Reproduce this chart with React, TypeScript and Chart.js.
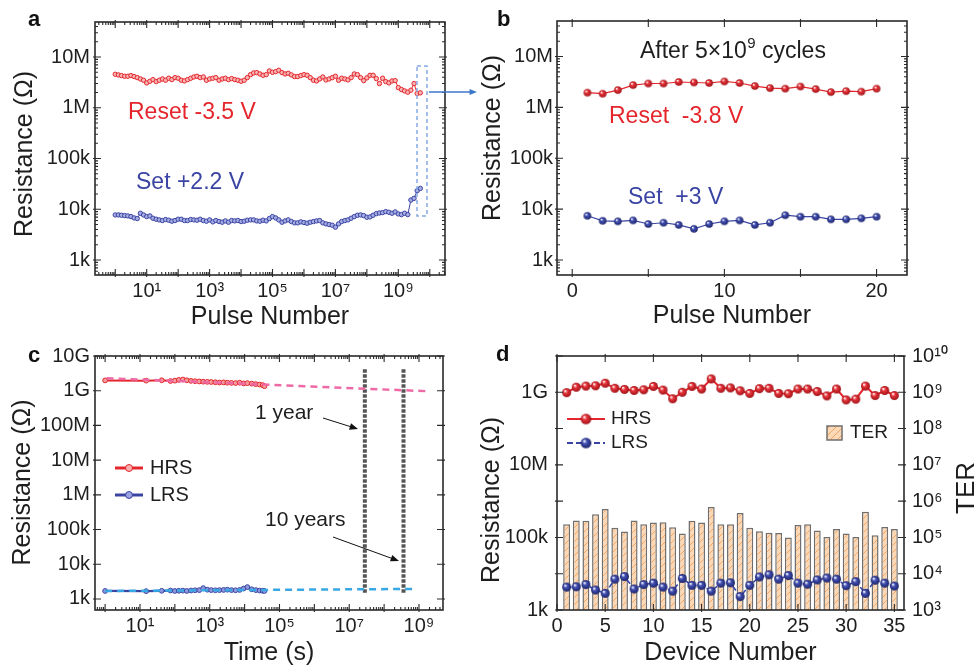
import React, { useEffect, useRef } from 'react';
import { Chart, registerables } from 'chart.js';

Chart.register(...registerables);

const FAMILY = '"Liberation Sans", Arial, Helvetica, sans-serif';
const INK = '#1e1e1e';
const RED = '#E4262C';
const BLUE = '#3A44A3';
const PINK_FIT = '#EE6AA7';
const CYAN_FIT = '#38A8E4';

Chart.defaults.font.family = FAMILY;
Chart.defaults.color = INK;

// ================= Panel a : endurance =================
const pulseA = [
  1, 1.26, 1.58, 2, 2.51, 3.16, 3.98, 5.01, 6.31, 7.94,
  10, 12.6, 15.8, 20, 25.1, 31.6, 39.8, 50.1, 63.1, 79.4,
  100, 126, 158, 200, 251, 316, 398, 501, 631, 794,
  1e3, 1.26e3, 1.58e3, 2e3, 2.51e3, 3.16e3, 3.98e3, 5.01e3, 6.31e3, 7.94e3,
  1e4, 1.26e4, 1.58e4, 2e4, 2.51e4, 3.16e4, 3.98e4, 5.01e4, 6.31e4, 7.94e4,
  1e5, 1.26e5, 1.58e5, 2e5, 2.51e5, 3.16e5, 3.98e5, 5.01e5, 6.31e5, 7.94e5,
  1e6, 1.26e6, 1.58e6, 2e6, 2.51e6, 3.16e6, 3.98e6, 5.01e6, 6.31e6, 7.94e6,
  1e7, 1.26e7, 1.58e7, 2e7, 2.51e7, 3.16e7, 3.98e7, 5.01e7, 6.31e7, 7.94e7,
  1e8, 1.26e8, 1.58e8, 2e8, 2.51e8, 3.16e8, 3.98e8, 5.01e8, 6.31e8, 7.94e8,
  1e9, 1.26e9, 1.58e9, 2e9, 2.51e9, 3.16e9, 3.98e9, 5.01e9,
];
const resetA = [
  4.57e6, 4.44e6, 4.31e6, 4.18e6, 4.18e6, 4.31e6, 4.12e6, 3.93e6, 3.70e6, 3.49e6,
  3.09e6, 3.33e6, 3.59e6, 3.28e6, 3.49e6, 3.70e6, 3.49e6, 3.82e6, 3.59e6, 3.93e6,
  3.82e6, 3.49e6, 3.38e6, 3.59e6, 3.82e6, 4.05e6, 4.18e6, 3.93e6, 4.05e6, 3.49e6,
  3.70e6, 3.82e6, 3.93e6, 3.49e6, 3.70e6, 3.82e6, 3.59e6, 3.76e6, 3.59e6, 3.49e6,
  3.33e6, 3.49e6, 3.93e6, 4.50e6, 4.86e6, 4.93e6, 4.64e6, 4.37e6, 4.50e6, 5.32e6,
  5.00e6, 5.16e6, 5.48e6, 4.93e6, 4.64e6, 4.78e6, 4.44e6, 4.12e6, 4.12e6, 4.31e6,
  4.50e6, 4.37e6, 3.93e6, 3.49e6, 3.38e6, 3.70e6, 4.05e6, 3.54e6, 3.70e6, 3.93e6,
  4.18e6, 3.49e6, 3.82e6, 3.70e6, 3.54e6, 3.93e6, 4.64e6, 4.50e6, 3.93e6, 3.43e6,
  3.88e6, 4.37e6, 4.37e6, 3.76e6, 3.00e6, 3.82e6, 3.28e6, 3.09e6, 3.38e6, 3.43e6,
  2.50e6, 2.29e6, 2.15e6, 2.03e6, 2.22e6, 3.00e6, 1.91e6, 1.97e6,
];
const setA = [
  7.74e3, 7.74e3, 7.63e3, 7.51e3, 7.40e3, 7.18e3, 6.76e3, 6.56e3, 8.35e3, 7.74e3,
  7.18e3, 7.40e3, 6.66e3, 6.37e3, 6.18e3, 6.00e3, 6.27e3, 6.09e3, 5.82e3, 6.00e3,
  6.37e3, 6.37e3, 6.00e3, 6.00e3, 6.27e3, 6.18e3, 6.09e3, 6.37e3, 6.00e3, 5.82e3,
  6.18e3, 5.65e3, 6.00e3, 5.73e3, 5.56e3, 5.90e3, 5.56e3, 6.00e3, 5.90e3, 6.00e3,
  5.73e3, 5.82e3, 6.09e3, 6.18e3, 6.18e3, 5.90e3, 5.82e3, 6.09e3, 5.90e3, 6.56e3,
  7.18e3, 6.76e3, 6.18e3, 5.56e3, 5.90e3, 6.18e3, 5.73e3, 5.40e3, 5.40e3, 5.65e3,
  5.48e3, 5.31e3, 5.56e3, 5.73e3, 5.90e3, 6.00e3, 5.40e3, 5.16e3, 5.00e3, 4.86e3,
  4.44e3, 5.16e3, 5.73e3, 6.00e3, 6.18e3, 6.66e3, 7.18e3, 7.63e3, 7.74e3, 7.51e3,
  6.97e3, 7.07e3, 7.63e3, 8.22e3, 8.47e3, 8.60e3, 9.00e3, 8.73e3, 8.35e3, 8.87e3,
  8.10e3, 7.86e3, 8.35e3, 7.86e3, 15.2e3, 16.4e3, 23.2e3, 25.8e3,
];
const pulseTicksA = [1, 10, 1e2, 1e3, 1e4, 1e5, 1e6, 1e7, 1e8, 1e9, 1e10];
const pulseLabelsA = ['', '10¹', '', '10³', '', '10⁵', '', '10⁷', '', '10⁹', ''];
const resTicksAB = [1e3, 1e4, 1e5, 1e6, 1e7];
const resLabelsAB = ['1k', '10k', '100k', '1M', '10M'];

// ================= Panel b : after 5e9 cycles =================
const pulseB = [1, 2, 3, 4, 5, 6, 7, 8, 9, 10, 11, 12, 13, 14, 15, 16, 17, 18, 19, 20];
const resetB = [1.95e6, 1.86e6, 2.19e6, 2.75e6, 2.95e6, 2.95e6, 3.16e6, 3.09e6, 3.02e6, 3.24e6,
  3.02e6, 2.63e6, 2.40e6, 2.34e6, 2.57e6, 2.29e6, 2.0e6, 2.09e6, 2.04e6, 2.34e6];
const setB = [7.4e3, 5.9e3, 5.75e3, 6.0e3, 5.1e3, 5.4e3, 4.9e3, 4.1e3, 5.1e3, 5.75e3,
  6.0e3, 4.9e3, 5.4e3, 7.6e3, 7.1e3, 7.1e3, 6.3e3, 6.3e3, 6.6e3, 7.1e3];
const pulseTicksB = [0, 5, 10, 15, 20];
const pulseLabelsB = ['0', '', '10', '', '20'];

// ================= Panel c : retention =================
const timeC = [1, 15, 42, 75, 100, 130, 170, 220, 290, 380, 500, 650, 850, 1100, 1450, 1900,
  2500, 3200, 4200, 5500, 7200, 9400, 12000, 16000, 21000, 27000, 33000, 37000];
const hrsC = [1.98e9, 1.95e9, 2.0e9, 1.9e9, 1.95e9, 2.05e9, 2.1e9, 2.0e9, 1.92e9, 1.88e9, 1.85e9,
  1.82e9, 1.8e9, 1.78e9, 1.75e9, 1.72e9, 1.74e9, 1.7e9, 1.68e9, 1.66e9, 1.7e9, 1.62e9, 1.65e9,
  1.6e9, 1.55e9, 1.5e9, 1.45e9, 1.35e9];
const lrsC = [1.7e3, 1.68e3, 1.72e3, 1.75e3, 1.7e3, 1.72e3, 1.74e3, 1.7e3, 1.75e3, 1.78e3, 1.8e3,
  2.05e3, 1.85e3, 1.8e3, 1.78e3, 1.8e3, 1.82e3, 1.85e3, 1.8e3, 1.78e3, 1.82e3, 2.0e3, 2.2e3,
  1.9e3, 1.8e3, 1.75e3, 1.72e3, 1.7e3];
const hrsFitT = [1.1, 2.1e9];
const hrsFitR = [2.3e9, 9.6e8];
const lrsFitT = [1, 8e8];
const lrsFitR = [1.7e3, 1.95e3];
const yearT = [2.8e7, 3.6e8];
const yearSpan = [1.5e3, 4.3e9];
const timeTicksC = [1, 10, 1e2, 1e3, 1e4, 1e5, 1e6, 1e7, 1e8, 1e9];
const timeLabelsC = ['', '10¹', '', '10³', '', '10⁵', '', '10⁷', '', '10⁹'];
const resTicksC = [1e3, 1e4, 1e5, 1e6, 1e7, 1e8, 1e9, 1e10];
const resLabelsC = ['1k', '10k', '100k', '1M', '10M', '100M', '1G', '10G'];

// ================= Panel d : device-to-device =================
const deviceD = [1, 2, 3, 4, 5, 6, 7, 8, 9, 10, 11, 12, 13, 14, 15, 16, 17, 18, 19, 20,
  21, 22, 23, 24, 25, 26, 27, 28, 29, 30, 31, 32, 33, 34, 35];
const hrsD = [0.977e9, 1.38e9, 1.48e9, 1.51e9, 1.78e9, 1.29e9, 1.20e9, 1.12e9, 1.17e9, 1.45e9,
  1.15e9, 0.661e9, 1.0e9, 1.45e9, 1.23e9, 2.34e9, 1.29e9, 1.32e9, 1.10e9, 0.933e9,
  1.26e9, 1.29e9, 0.933e9, 0.912e9, 1.23e9, 1.23e9, 1.05e9, 0.794e9, 1.23e9, 0.617e9,
  0.646e9, 1.48e9, 0.813e9, 1.12e9, 0.813e9];
const lrsD = [4.27e3, 4.37e3, 5.01e3, 3.55e3, 2.88e3, 7.08e3, 8.32e3, 3.80e3, 5.01e3, 5.50e3,
  4.27e3, 3.31e3, 7.41e3, 4.79e3, 4.79e3, 3.31e3, 5.50e3, 5.62e3, 2.34e3, 4.79e3,
  8.13e3, 9.33e3, 7.08e3, 8.91e3, 5.50e3, 5.13e3, 6.76e3, 7.59e3, 7.08e3, 4.68e3,
  6.03e3, 2.88e3, 6.61e3, 5.50e3, 4.57e3];
const terD = [2.29e5, 2.95e5, 2.88e5, 4.37e5, 6.03e5, 1.86e5, 1.45e5, 2.95e5, 2.29e5, 2.57e5,
  2.63e5, 1.91e5, 1.29e5, 2.88e5, 2.57e5, 6.92e5, 2.29e5, 2.29e5, 4.68e5, 1.86e5,
  1.48e5, 1.35e5, 1.32e5, 1.0e5, 2.19e5, 2.29e5, 1.55e5, 1.02e5, 1.70e5, 1.29e5,
  1.02e5, 5.13e5, 1.15e5, 1.95e5, 1.70e5];
const devTicksD = [0, 5, 10, 15, 20, 25, 30, 35];
const devLabelsD = ['0', '5', '10', '15', '20', '25', '30', '35'];
const resTicksD = [1e3, 1e4, 1e5, 1e6, 1e7, 1e8, 1e9, 1e10];
const resLabelsD = ['1k', '', '100k', '', '10M', '', '1G', ''];
const terLabelsD = ['10³', '10⁴', '10⁵', '10⁶', '10⁷', '10⁸', '10⁹', '10¹⁰'];

// ================= helpers =================
function axis(o: any): any {
  const horiz = o.position === 'bottom';
  return {
    type: o.type,
    min: o.min,
    max: o.max,
    position: o.position,
    offset: false,
    grid: { display: false, drawTicks: false },
    border: { display: false },
    ticks: {
      autoSkip: false,
      maxRotation: 0,
      minRotation: 0,
      padding: o.pad ?? 5,
      color: INK,
      font: { size: 20, family: FAMILY },
      callback: (_v: any, i: number) => o.labels[i] ?? '',
    },
    afterBuildTicks: (s: any) => {
      s.ticks = o.ticks.map((v: number) => ({ value: v }));
    },
    afterFit: (s: any) => {
      if (horiz) s.height = o.size;
      else s.width = o.size;
    },
    title: o.title
      ? { display: true, text: o.title, color: INK, font: { size: 25, family: FAMILY, lineHeight: 1 }, padding: { top: 0, bottom: o.titlePad ?? 0 } }
      : { display: false },
  };
}

function logMinor(min: number, max: number) {
  const out: number[] = [];
  for (let n = Math.floor(Math.log10(min)); n <= Math.ceil(Math.log10(max)); n++) {
    for (let k = 2; k <= 9; k++) {
      const v = k * Math.pow(10, n);
      if (v > min && v < max) out.push(v);
    }
  }
  return out;
}

function drawFrame(chart: any, cfg: { xMinor?: boolean; yMinor?: boolean; y2?: boolean }) {
  const { ctx, chartArea: a } = chart;
  const xs = chart.scales.x;
  const ys = chart.scales.y;
  const yr = cfg.y2 ? chart.scales.y2 : ys;
  const MAJ = 6;
  const MIN = 3;
  ctx.save();
  ctx.strokeStyle = '#2a2a2a';
  ctx.lineWidth = 1.1;
  ctx.beginPath();
  const tx = (v: number, len: number) => {
    const p = xs.getPixelForValue(v);
    if (p < a.left - 0.5 || p > a.right + 0.5) return;
    ctx.moveTo(p, a.bottom + (len === MAJ ? 2 : 0));
    ctx.lineTo(p, a.bottom - len);
    ctx.moveTo(p, a.top - (len === MAJ ? 2 : 0));
    ctx.lineTo(p, a.top + len);
  };
  const tyl = (s: any, v: number, len: number) => {
    const p = s.getPixelForValue(v);
    if (p < a.top - 0.5 || p > a.bottom + 0.5) return;
    ctx.moveTo(a.left - (len === MAJ ? 2 : 0), p);
    ctx.lineTo(a.left + len, p);
  };
  const tyr = (s: any, v: number, len: number) => {
    const p = s.getPixelForValue(v);
    if (p < a.top - 0.5 || p > a.bottom + 0.5) return;
    ctx.moveTo(a.right + (len === MAJ ? 2 : 0), p);
    ctx.lineTo(a.right - len, p);
  };
  xs.ticks.forEach((t: any) => tx(t.value, MAJ));
  if (cfg.xMinor) logMinor(xs.min, xs.max).forEach((v) => tx(v, MIN));
  ys.ticks.forEach((t: any) => tyl(ys, t.value, MAJ));
  yr.ticks.forEach((t: any) => tyr(yr, t.value, MAJ));
  if (cfg.yMinor) {
    logMinor(ys.min, ys.max).forEach((v) => tyl(ys, v, MIN));
    logMinor(yr.min, yr.max).forEach((v) => tyr(yr, v, MIN));
  }
  ctx.stroke();
  ctx.lineWidth = 1.6;
  ctx.strokeRect(a.left, a.top, a.right - a.left, a.bottom - a.top);
  ctx.restore();
}

function text(ctx: any, s: string, x: number, y: number, size: number, color: string, o: any = {}) {
  ctx.save();
  ctx.font = `${o.bold ? 'bold ' : ''}${size}px ${FAMILY}`;
  ctx.fillStyle = color;
  ctx.textAlign = o.align ?? 'left';
  ctx.textBaseline = 'middle';
  ctx.translate(x, y);
  if (o.rot) ctx.rotate(o.rot);
  ctx.fillText(s, 0, 0);
  const w = ctx.measureText(s).width;
  ctx.restore();
  return w;
}

function arrow(ctx: any, x1: number, y1: number, x2: number, y2: number, color: string, w: number, head: number) {
  const ang = Math.atan2(y2 - y1, x2 - x1);
  ctx.save();
  ctx.strokeStyle = color;
  ctx.fillStyle = color;
  ctx.lineWidth = w;
  ctx.beginPath();
  ctx.moveTo(x1, y1);
  ctx.lineTo(x2 - head * 0.8 * Math.cos(ang), y2 - head * 0.8 * Math.sin(ang));
  ctx.stroke();
  ctx.beginPath();
  ctx.moveTo(x2, y2);
  ctx.lineTo(x2 - head * Math.cos(ang - 0.38), y2 - head * Math.sin(ang - 0.38));
  ctx.lineTo(x2 - head * Math.cos(ang + 0.38), y2 - head * Math.sin(ang + 0.38));
  ctx.closePath();
  ctx.fill();
  ctx.restore();
}

function sphere(base: string, dark: string, r: number) {
  const c = document.createElement('canvas');
  const s = Math.ceil(2 * r + 2);
  c.width = s;
  c.height = s;
  const g = c.getContext('2d')!;
  const cx = s / 2;
  const cy = s / 2;
  const grad = g.createRadialGradient(cx - r * 0.35, cy - r * 0.4, r * 0.08, cx, cy, r);
  grad.addColorStop(0, '#ffffff');
  grad.addColorStop(0.35, base);
  grad.addColorStop(1, dark);
  g.fillStyle = grad;
  g.beginPath();
  g.arc(cx, cy, r, 0, Math.PI * 2);
  g.fill();
  return c;
}

function hatch(cv: HTMLCanvasElement) {
  const t = document.createElement('canvas');
  t.width = 7;
  t.height = 7;
  const g = t.getContext('2d')!;
  g.fillStyle = '#FDD8B6';
  g.fillRect(0, 0, 7, 7);
  g.strokeStyle = '#F3A25A';
  g.lineWidth = 0.9;
  g.beginPath();
  g.moveTo(0, 7);
  g.lineTo(7, 0);
  g.moveTo(-1, 1);
  g.lineTo(1, -1);
  g.moveTo(6, 8);
  g.lineTo(8, 6);
  g.stroke();
  return cv.getContext('2d')!.createPattern(t, 'repeat');
}

const common = {
  responsive: false,
  animation: false,
  devicePixelRatio: 1,
  events: [],
  plugins: { legend: { display: false }, tooltip: { enabled: false } },
  elements: { line: { tension: 0 } },
};

// ================= chart factories =================
function makeA(_cv: HTMLCanvasElement): any {
  return {
    type: 'line',
    data: {
      datasets: [
        {
          data: pulseA.map((x, i) => ({ x, y: resetA[i] })),
          borderColor: RED, borderWidth: 1, pointRadius: 2.2, pointBorderWidth: 1,
          pointBorderColor: RED, pointBackgroundColor: '#F7B4B4',
        },
        {
          data: pulseA.map((x, i) => ({ x, y: setA[i] })),
          borderColor: BLUE, borderWidth: 1, pointRadius: 2.2, pointBorderWidth: 1,
          pointBorderColor: BLUE, pointBackgroundColor: '#A6ADE2',
        },
      ],
    },
    options: {
      ...common,
      layout: { padding: { top: 22, right: 45, left: 0, bottom: 0 } },
      scales: {
        x: axis({ type: 'logarithmic', min: 0.227, max: 3.05e10, ticks: pulseTicksA, labels: pulseLabelsA, size: 60, position: 'bottom', title: 'Pulse Number', titlePad: 5.5, pad: 4 }),
        y: axis({ type: 'logarithmic', min: 507, max: 4.9e7, ticks: resTicksAB, labels: resLabelsAB, size: 95, position: 'left', pad: 5 }),
      },
    },
    plugins: [{
      id: 'decorA',
      afterDraw(chart: any) {
        const ctx = chart.ctx;
        drawFrame(chart, { xMinor: true, yMinor: true });
        text(ctx, 'Resistance (Ω)', 25, 154, 25, INK, { align: 'center', rot: -Math.PI / 2 });
        text(ctx, 'a', 28, 20, 22, '#111', { bold: true });
        text(ctx, 'Reset -3.5 V', 128, 113, 23, RED);
        text(ctx, 'Set +2.2 V', 136, 183, 23, BLUE);
        ctx.save();
        ctx.strokeStyle = '#86AAE4';
        ctx.lineWidth = 1.5;
        ctx.setLineDash([4, 3]);
        ctx.strokeRect(417, 66, 10, 150);
        ctx.restore();
        arrow(ctx, 429, 92, 477, 92, '#3C78C8', 1.5, 8);
      },
    }],
  };
}

function makeB(_cv: HTMLCanvasElement): any {
  const rs = sphere('#E8353B', '#9E1218', 3.8);
  const bs = sphere('#4350B5', '#1C2468', 3.8);
  return {
    type: 'line',
    data: {
      datasets: [
        { data: pulseB.map((x, i) => ({ x, y: resetB[i] })), borderColor: RED, borderWidth: 1.2, pointStyle: rs, pointRadius: 3.8 },
        { data: pulseB.map((x, i) => ({ x, y: setB[i] })), borderColor: BLUE, borderWidth: 1.2, pointStyle: bs, pointRadius: 3.8 },
      ],
    },
    options: {
      ...common,
      layout: { padding: { top: 21, right: 69, left: 0, bottom: 0 } },
      scales: {
        x: axis({ type: 'linear', min: -1, max: 22, ticks: pulseTicksB, labels: pulseLabelsB, size: 60, position: 'bottom', title: 'Pulse Number', titlePad: 6.5, pad: 4 }),
        y: axis({ type: 'logarithmic', min: 507, max: 5.0e7, ticks: resTicksAB, labels: resLabelsAB, size: 77, position: 'left', pad: 4 }),
      },
    },
    plugins: [{
      id: 'decorB',
      afterDraw(chart: any) {
        const ctx = chart.ctx;
        drawFrame(chart, { yMinor: true });
        text(ctx, 'Resistance (Ω)', 13, 138, 25, INK, { align: 'center', rot: -Math.PI / 2 });
        text(ctx, 'b', 17, 20, 22, '#111', { bold: true });
        let x = 160;
        x += text(ctx, 'After 5×10', x, 52, 23, INK);
        x += text(ctx, '9', x + 0.5, 44, 15, INK) + 0.5;
        text(ctx, ' cycles', x, 52, 23, INK);
        text(ctx, 'Reset  -3.8 V', 129, 117, 23, RED);
        text(ctx, 'Set  +3 V', 148, 198, 23, BLUE);
      },
    }],
  };
}

function makeC(_cv: HTMLCanvasElement): any {
  return {
    type: 'line',
    data: {
      datasets: [
        { data: hrsFitT.map((x, i) => ({ x, y: hrsFitR[i] })), borderColor: PINK_FIT, borderWidth: 2.5, borderDash: [7, 5], pointRadius: 0, order: 0 },
        { data: lrsFitT.map((x, i) => ({ x, y: lrsFitR[i] })), borderColor: CYAN_FIT, borderWidth: 2.5, borderDash: [7, 5], pointRadius: 0, order: 0 },
        { data: yearSpan.map((y) => ({ x: yearT[0], y })), borderColor: '#555555', borderWidth: 4, borderDash: [3.5, 1.5], pointRadius: 0, order: 2 },
        { data: yearSpan.map((y) => ({ x: yearT[1], y })), borderColor: '#555555', borderWidth: 4, borderDash: [3.5, 1.5], pointRadius: 0, order: 2 },
        {
          data: timeC.map((x, i) => ({ x, y: hrsC[i] })), borderColor: RED, borderWidth: 2, pointRadius: 2.4,
          pointBorderWidth: 1, pointBorderColor: RED, pointBackgroundColor: '#F59C9C', order: 1,
        },
        {
          data: timeC.map((x, i) => ({ x, y: lrsC[i] })), borderColor: BLUE, borderWidth: 2.2, pointRadius: 2.4,
          pointBorderWidth: 1, pointBorderColor: BLUE, pointBackgroundColor: '#8F98DA', order: 1,
        },
      ],
    },
    options: {
      ...common,
      layout: { padding: { top: 21, right: 37, left: 0, bottom: 0 } },
      scales: {
        x: axis({ type: 'logarithmic', min: 0.513, max: 4.88e9, ticks: timeTicksC, labels: timeLabelsC, size: 58, position: 'bottom', title: 'Time (s)', titlePad: 2.8, pad: 4 }),
        y: axis({ type: 'logarithmic', min: 481, max: 1e10, ticks: resTicksC, labels: resLabelsC, size: 95, position: 'left', pad: 5 }),
      },
    },
    plugins: [{
      id: 'decorC',
      afterDraw(chart: any) {
        const ctx = chart.ctx;
        drawFrame(chart, { xMinor: true });
        text(ctx, 'Resistance (Ω)', 23, 147.5, 25, INK, { align: 'center', rot: -Math.PI / 2 });
        text(ctx, 'c', 28, 21, 22, '#111', { bold: true });
        const leg = (y: number, col: string, fill: string, label: string) => {
          ctx.save();
          ctx.strokeStyle = col;
          ctx.lineWidth = 3;
          ctx.beginPath();
          ctx.moveTo(115, y);
          ctx.lineTo(143, y);
          ctx.stroke();
          ctx.fillStyle = fill;
          ctx.lineWidth = 1;
          ctx.beginPath();
          ctx.arc(129, y, 3.5, 0, Math.PI * 2);
          ctx.fill();
          ctx.stroke();
          ctx.restore();
          text(ctx, label, 150, y, 20, INK);
        };
        leg(133, RED, '#F7B0B0', 'HRS');
        leg(160, BLUE, '#9AA2E0', 'LRS');
        text(ctx, '1 year', 255, 78, 21, INK);
        text(ctx, '10 years', 265, 185, 21, INK);
        arrow(ctx, 323, 83, 358, 94, '#111', 1, 9);
        arrow(ctx, 333, 202, 399, 226, '#111', 1, 9);
      },
    }],
  };
}

function makeD(cv: HTMLCanvasElement): any {
  const rs = sphere('#E8353B', '#9E1218', 4.5);
  const bs = sphere('#4350B5', '#1C2468', 4.5);
  const rsL = sphere('#E8353B', '#9E1218', 5.3);
  const bsL = sphere('#4350B5', '#1C2468', 5.3);
  const pat = hatch(cv);
  return {
    type: 'bar',
    data: {
      datasets: [
        {
          type: 'line', yAxisID: 'y', order: 0,
          data: deviceD.map((x, i) => ({ x, y: hrsD[i] })), borderColor: RED, borderWidth: 2, pointStyle: rs, pointRadius: 4.5,
        },
        {
          type: 'line', yAxisID: 'y', order: 0,
          data: deviceD.map((x, i) => ({ x, y: lrsD[i] })), borderColor: BLUE, borderWidth: 1.6, borderDash: [5, 3], pointStyle: bs, pointRadius: 4.5,
        },
        {
          type: 'bar', yAxisID: 'y2', order: 1,
          data: deviceD.map((x, i) => ({ x, y: terD[i] })), backgroundColor: pat, borderColor: '#6f6f6f', borderWidth: 1.5,
          barPercentage: 0.9, categoryPercentage: 0.8,
        },
      ],
    },
    options: {
      ...common,
      layout: { padding: { top: 21, right: 0, left: 0, bottom: 0 } },
      scales: {
        x: axis({ type: 'linear', min: 0, max: 36, ticks: devTicksD, labels: devLabelsD, size: 58, position: 'bottom', title: 'Device Number', titlePad: 2.8, pad: 4 }),
        y: axis({ type: 'logarithmic', min: 1e3, max: 1e10, ticks: resTicksD, labels: resLabelsD, size: 77, position: 'left', pad: 9 }),
        y2: axis({ type: 'logarithmic', min: 1e3, max: 1e10, ticks: resTicksD, labels: terLabelsD, size: 72, position: 'right', pad: 8 }),
      },
    },
    plugins: [{
      id: 'decorD',
      afterDraw(chart: any) {
        const ctx = chart.ctx;
        drawFrame(chart, { y2: true });
        text(ctx, 'Resistance (Ω)', 12, 165, 25, INK, { align: 'center', rot: -Math.PI / 2 });
        text(ctx, 'TER', 487, 153, 26, INK, { align: 'center', rot: -Math.PI / 2 });
        text(ctx, 'd', 16, 20, 22, '#111', { bold: true });
        const leg = (y: number, col: string, dash: number[], img: HTMLCanvasElement, label: string) => {
          ctx.save();
          ctx.strokeStyle = col;
          ctx.lineWidth = 2;
          ctx.setLineDash(dash);
          ctx.beginPath();
          ctx.moveTo(87, y);
          ctx.lineTo(125, y);
          ctx.stroke();
          ctx.restore();
          ctx.drawImage(img, 106 - img.width / 2, y - img.height / 2);
          text(ctx, label, 131, y, 19, INK);
        };
        leg(84, RED, [], rsL, 'HRS');
        leg(108, BLUE, [6, 3], bsL, 'LRS');
        ctx.save();
        ctx.fillStyle = pat;
        ctx.fillRect(347, 91, 15, 14);
        ctx.strokeStyle = '#6f6f6f';
        ctx.lineWidth = 1.5;
        ctx.strokeRect(347, 91, 15, 14);
        ctx.restore();
        text(ctx, 'TER', 370, 98, 19, INK);
      },
    }],
  };
}

function Panel({ left, top, width, height, make }: any) {
  const ref = useRef<HTMLCanvasElement>(null);
  useEffect(() => {
    const cv = ref.current!;
    const chart = new Chart(cv, make(cv));
    return () => chart.destroy();
  }, [make]);
  return (
    <canvas
      ref={ref}
      width={width}
      height={height}
      style={{ position: 'absolute', left, top, width, height }}
    />
  );
}

export default function App() {
  return (
    <div style={{ position: 'absolute', left: 0, top: 0, width: 976, height: 668, background: '#ffffff', overflow: 'hidden' }}>
      <Panel left={0} top={0} width={490} height={335} make={makeA} />
      <Panel left={480} top={0} width={496} height={335} make={makeB} />
      <Panel left={0} top={335} width={480} height={333} make={makeC} />
      <Panel left={480} top={335} width={496} height={333} make={makeD} />
    </div>
  );
}
